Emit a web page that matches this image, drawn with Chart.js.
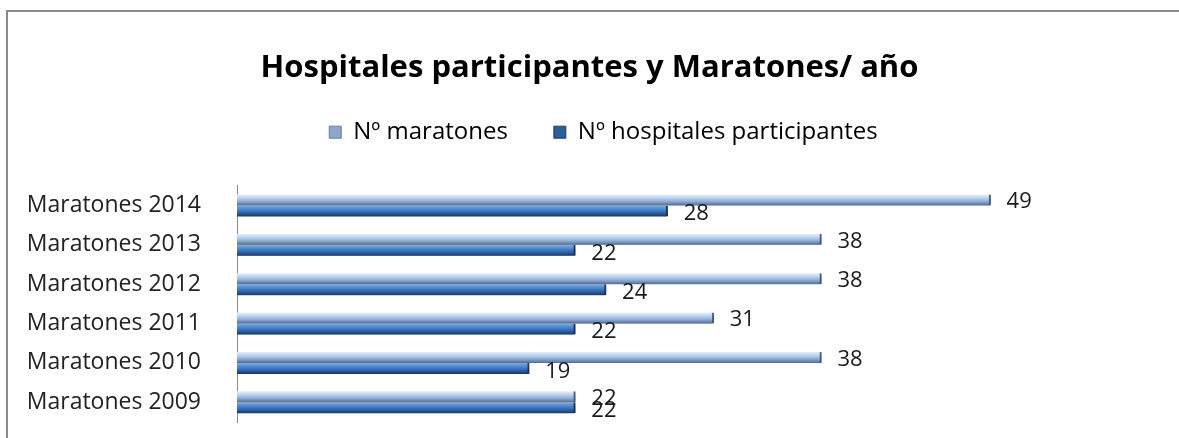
<!DOCTYPE html>
<html>
<head>
<meta charset="utf-8">
<script src="https://cdn.jsdelivr.net/npm/chart.js@4"></script>
<style>
  html, body { margin: 0; padding: 0; background: #fff; }
  body { width: 1179px; height: 438px; overflow: hidden; position: relative; }
  .frame { position: absolute; left: 6px; top: 10px; width: 1300px; height: 600px; border-top: 2px solid #8a8a8a; border-left: 2px solid #8a8a8a; }
  #chart { position: absolute; left: 0; top: 0; }
</style>
</head>
<body>
<div class="frame"></div>
<canvas id="chart" width="1179" height="438"></canvas>
<script>
"use strict"

// Datos
const categories = ["Maratones 2014", "Maratones 2013", "Maratones 2012", "Maratones 2011", "Maratones 2010", "Maratones 2009"]
const maratones = [49, 38, 38, 31, 38, 22]
const hospitales = [28, 22, 24, 22, 19, 22]
const seriesNames = ["Nº maratones", "Nº hospitales participantes"]

const FONT = "'Open Sans', sans-serif"
const BAR = 11

// Degradado vertical para cada barra
function barFill(stops, flat) {
  return ctx => {
    const chart = ctx.chart
    const y = chart.scales && chart.scales.y
    if (!y || ctx.type !== "data") return flat
    const c = y.getPixelForValue(ctx.dataIndex)
    const top = ctx.datasetIndex === 0 ? c - BAR : c
    const g = chart.ctx.createLinearGradient(0, top, 0, top + BAR)
    stops.forEach(s => g.addColorStop(s[0], s[1]))
    return g
  }
}

const lightStops = [[0, "#e6f0fc"], [0.3, "#bcd4f1"], [0.6, "#93b2db"], [1, "#56698a"]]
const darkStops = [[0, "#7aaee8"], [0.35, "#4a86cf"], [0.7, "#2f5f9e"], [1, "#1b3658"]]

// Leyenda: altura fija y desplazamiento; sombra de barras y etiquetas de valor
const barExtras = {
  id: "barExtras",
  beforeInit(chart) {
    const legend = chart.legend
    const fit = legend.fit
    legend.fit = function () {
      fit.call(this)
      this.height = 98.6
    }
    const draw = legend.draw
    legend.draw = function () {
      this.left += 14; this.right += 14; this.top -= 13
      draw.call(this)
      this.left -= 14; this.right -= 14; this.top += 13
    }
  },
  beforeDatasetsDraw(chart) {
    const ctx = chart.ctx
    ctx.save()
    ctx.shadowColor = "rgba(0,0,0,0.3)"
    ctx.shadowOffsetY = 3
    ctx.shadowBlur = 3
  },
  afterDatasetsDraw(chart) {
    const ctx = chart.ctx
    ctx.restore()
    ctx.save()
    ctx.font = "22px " + FONT
    ctx.fillStyle = "#1a1a1a"
    ctx.textBaseline = "middle"
    chart.data.datasets.forEach((ds, di) => {
      chart.getDatasetMeta(di).data.forEach((el, i) => {
        ctx.fillText(ds.data[i], el.x + 16, el.y + (di ? 3 : 2))
      })
    })
    ctx.restore()
  }
}

new Chart(document.getElementById("chart"), {
  type: "bar",
  data: {
    labels: categories,
    datasets: [{
      label: seriesNames[0],
      data: maratones,
      backgroundColor: barFill(lightStops, "#9db8dc"),
      borderColor: "#4d5f7a",
      borderWidth: { top: 0, right: 2, bottom: 0, left: 0 },
      borderSkipped: false,
      barThickness: BAR
    }, {
      label: seriesNames[1],
      data: hospitales,
      backgroundColor: barFill(darkStops, "#3a72b8"),
      borderColor: "#1c3556",
      borderWidth: { top: 0, right: 2, bottom: 0, left: 0 },
      borderSkipped: false,
      barThickness: BAR
    }]
  },
  options: {
    indexAxis: "y",
    responsive: false,
    animation: false,
    layout: { padding: { top: 0, right: 0, bottom: 16, left: 0 } },
    scales: {
      x: { display: false, min: 0, max: 61.25 },
      y: {
        grid: { display: false },
        border: { display: true, color: "#8c8c8c", width: 1 },
        ticks: { color: "#222", font: { family: FONT, size: 23 }, padding: 28 },
        afterFit: s => {
          s.width = 237
          s.paddingTop = 0
          s.paddingBottom = 0
        }
      }
    },
    plugins: {
      title: {
        display: true,
        text: "Hospitales participantes y Maratones/ año",
        color: "#000",
        font: { family: FONT, size: 31, weight: "bold" },
        padding: { top: 50, bottom: 0 }
      },
      legend: {
        labels: {
          color: "#222",
          font: { family: FONT, size: 24 },
          boxWidth: 12,
          boxHeight: 12,
          padding: 46,
          generateLabels: () => [
            { text: seriesNames[0], fillStyle: "#8ea6c8", strokeStyle: "#6a7f9e", lineWidth: 1, datasetIndex: 0 },
            { text: seriesNames[1], fillStyle: "#2f5d96", strokeStyle: "#1f3d66", lineWidth: 1, datasetIndex: 1 }
          ]
        }
      },
      tooltip: { enabled: false }
    }
  },
  plugins: [barExtras]
})
</script>
</body>
</html>
